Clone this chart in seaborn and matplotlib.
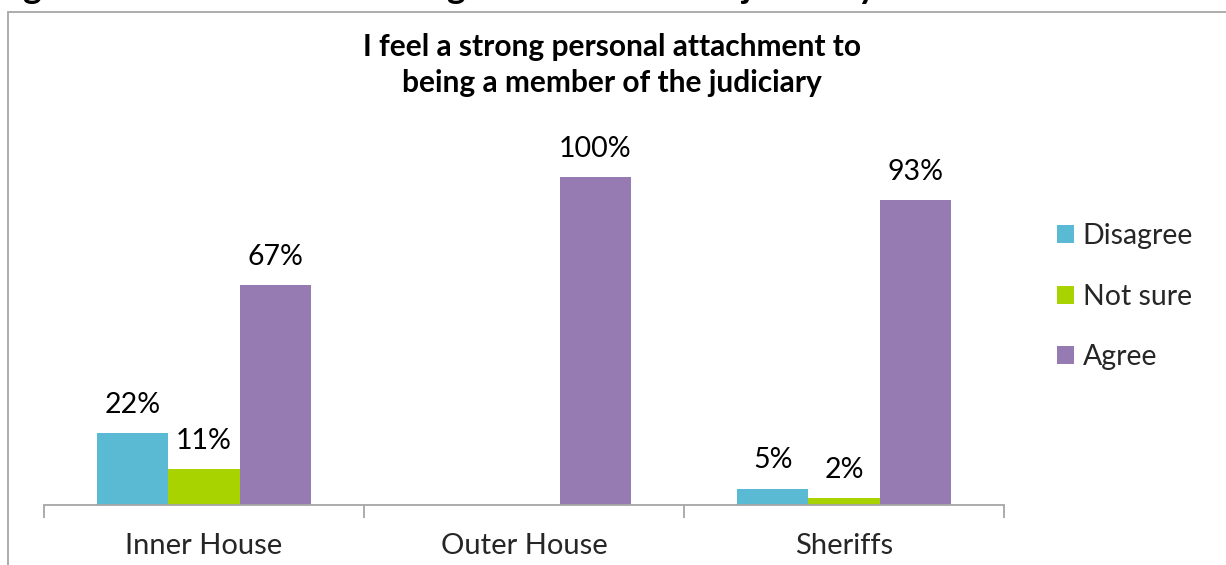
import matplotlib
matplotlib.use("Agg")
import matplotlib.pyplot as plt
from matplotlib.patches import Rectangle
from matplotlib.ticker import FixedLocator
import pandas as pd
import seaborn as sns

# Survey responses by judicial group (percent of respondents)
groups = ["Inner House", "Outer House", "Sheriffs"]
responses = ["Disagree", "Not sure", "Agree"]
disagree = [22, 0, 5]
not_sure = [11, 0, 2]
agree = [67, 100, 93]
palette = ["#5BBAD3", "#A8D300", "#957BB2"]

df = pd.DataFrame({
    "group": groups * 3,
    "response": [r for r in responses for _ in groups],
    "value": disagree + not_sure + agree,
})

sns.set_theme(style="white")
plt.rcParams["font.family"] = ["Lato", "DejaVu Sans"]

fig = plt.figure(figsize=(12.26, 5.65), dpi=100)
W, H = 1226, 565

# Outer chart frame (runs off the right and bottom edges)
fig.patches.append(Rectangle((8 / W, -0.1), 1.2, 1 - 12 / H + 0.1,
                             transform=fig.transFigure, fill=False,
                             edgecolor="#A6A6A6", linewidth=1.3))

# Report heading sitting just above the chart, cropped at the top
fig.text(-6 / W, 1 + 2 / H, "Figure 6: Attachment to being a member of the judiciary",
         fontsize=25.5, fontweight="bold", ha="left", va="baseline", color="black")

ax = fig.add_axes([44 / W, 1 - 505 / H, 960 / W, (1.2 * 328) / H])
sns.barplot(data=df, x="group", y="value", hue="response", order=groups,
            hue_order=responses, palette=palette, width=2 / 3, saturation=1,
            edgecolor="none", linewidth=0, ax=ax, legend=True)

ax.set_xlim(-0.5, 2.5)
ax.set_ylim(0, 120)

for container in ax.containers:
    labels = [f"{v:.0f}%" if v > 0 else "" for v in container.datavalues]
    ax.bar_label(container, labels=labels, padding=11, fontsize=20.5,
                 color="black")

for side in ["top", "right", "left"]:
    ax.spines[side].set_visible(False)
ax.spines["bottom"].set_color("#A6A6A6")
ax.spines["bottom"].set_linewidth(1.3)

ax.set_yticks([])
ax.set_xlabel("")
ax.set_ylabel("")
ax.tick_params(axis="x", which="major", length=0, pad=20, labelsize=21)
ax.xaxis.set_minor_locator(FixedLocator([-0.5, 0.5, 1.5, 2.5]))
ax.tick_params(axis="x", which="minor", length=9, width=1.3, color="#A6A6A6",
               direction="out", bottom=True)

fig.text(612 / W, 1 - 65 / H,
         "I feel a strong personal attachment to\nbeing a member of the judiciary",
         fontsize=21.5, fontweight="bold", ha="center", va="center",
         linespacing=1.35, color="black")

ax.legend(loc="upper left", bbox_to_anchor=(1057 / W, 1 - 223 / H),
          bbox_transform=fig.transFigure, frameon=False, fontsize=20.5,
          handlelength=0.6, handleheight=0.6, handletextpad=0.3,
          labelspacing=1.22, borderaxespad=0, borderpad=0)

fig.savefig("out.png", dpi=100)
